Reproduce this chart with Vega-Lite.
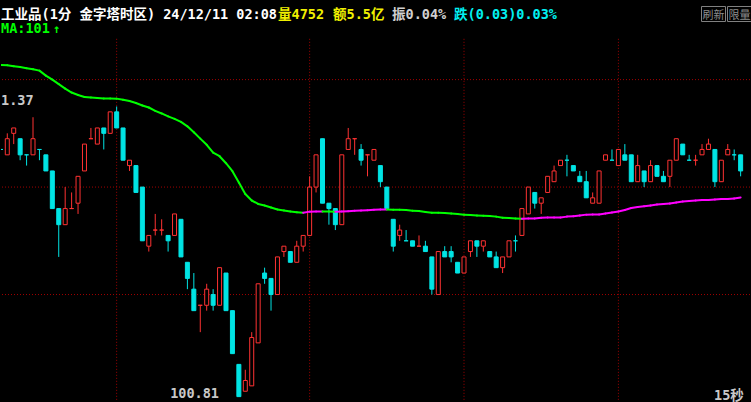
{
"$schema": "https://vega.github.io/schema/vega-lite/v6.json",
"width": 751, "height": 402,
"autosize": {"type": "fit", "contains": "padding"},
"padding": 0,
"background": "#000000",
"config": {"view": {"stroke": null}, "text": {"font": "DejaVu Sans Mono, Noto Sans CJK SC"}, "scale": {"continuousPadding": 0}},
"data": {"values": [
{"i":1,"o":101.27,"c":101.27,"h":101.27,"l":101.27,"d":"down","ma":101.4272,"mc":"down"},
{"i":2,"o":101.26,"c":101.29,"h":101.30,"l":101.26,"d":"up","ma":101.4269,"mc":"down"},
{"i":3,"o":101.30,"c":101.31,"h":101.31,"l":101.28,"d":"up","ma":101.4250,"mc":"down"},
{"i":4,"o":101.29,"c":101.26,"h":101.29,"l":101.25,"d":"down","ma":101.4235,"mc":"down"},
{"i":5,"o":101.26,"c":101.26,"h":101.26,"l":101.24,"d":"down","ma":101.4213,"mc":"down"},
{"i":6,"o":101.26,"c":101.29,"h":101.33,"l":101.26,"d":"up","ma":101.4194,"mc":"down"},
{"i":7,"o":101.27,"c":101.27,"h":101.27,"l":101.25,"d":"down","ma":101.4167,"mc":"down"},
{"i":8,"o":101.26,"c":101.23,"h":101.26,"l":101.23,"d":"down","ma":101.4074,"mc":"down"},
{"i":9,"o":101.23,"c":101.16,"h":101.23,"l":101.16,"d":"down","ma":101.4000,"mc":"down"},
{"i":10,"o":101.16,"c":101.13,"h":101.16,"l":101.07,"d":"down","ma":101.3917,"mc":"down"},
{"i":11,"o":101.13,"c":101.16,"h":101.20,"l":101.13,"d":"up","ma":101.3833,"mc":"down"},
{"i":12,"o":101.16,"c":101.16,"h":101.19,"l":101.16,"d":"up","ma":101.3759,"mc":"down"},
{"i":13,"o":101.17,"c":101.22,"h":101.22,"l":101.15,"d":"up","ma":101.3713,"mc":"down"},
{"i":14,"o":101.23,"c":101.28,"h":101.28,"l":101.23,"d":"up","ma":101.3676,"mc":"down"},
{"i":15,"o":101.29,"c":101.29,"h":101.31,"l":101.29,"d":"up","ma":101.3667,"mc":"down"},
{"i":16,"o":101.28,"c":101.31,"h":101.31,"l":101.28,"d":"up","ma":101.3657,"mc":"down"},
{"i":17,"o":101.31,"c":101.30,"h":101.31,"l":101.27,"d":"down","ma":101.3648,"mc":"down"},
{"i":18,"o":101.30,"c":101.34,"h":101.34,"l":101.30,"d":"up","ma":101.3647,"mc":"down"},
{"i":19,"o":101.34,"c":101.31,"h":101.35,"l":101.31,"d":"down","ma":101.3646,"mc":"down"},
{"i":20,"o":101.31,"c":101.25,"h":101.31,"l":101.25,"d":"down","ma":101.3624,"mc":"down"},
{"i":21,"o":101.24,"c":101.25,"h":101.25,"l":101.23,"d":"up","ma":101.3602,"mc":"down"},
{"i":22,"o":101.24,"c":101.19,"h":101.24,"l":101.19,"d":"down","ma":101.3565,"mc":"down"},
{"i":23,"o":101.20,"c":101.10,"h":101.20,"l":101.10,"d":"down","ma":101.3519,"mc":"down"},
{"i":24,"o":101.09,"c":101.11,"h":101.11,"l":101.08,"d":"up","ma":101.3481,"mc":"down"},
{"i":25,"o":101.12,"c":101.12,"h":101.15,"l":101.11,"d":"up","ma":101.3417,"mc":"down"},
{"i":26,"o":101.12,"c":101.12,"h":101.14,"l":101.11,"d":"up","ma":101.3370,"mc":"down"},
{"i":27,"o":101.11,"c":101.10,"h":101.11,"l":101.08,"d":"down","ma":101.3315,"mc":"down"},
{"i":28,"o":101.11,"c":101.15,"h":101.15,"l":101.11,"d":"up","ma":101.3269,"mc":"down"},
{"i":29,"o":101.14,"c":101.07,"h":101.14,"l":101.07,"d":"down","ma":101.3213,"mc":"down"},
{"i":30,"o":101.06,"c":101.03,"h":101.06,"l":101.01,"d":"down","ma":101.3130,"mc":"down"},
{"i":31,"o":101.01,"c":100.97,"h":101.04,"l":100.97,"d":"down","ma":101.3019,"mc":"down"},
{"i":32,"o":100.98,"c":100.98,"h":100.98,"l":100.93,"d":"up","ma":101.2902,"mc":"down"},
{"i":33,"o":100.98,"c":101.01,"h":101.02,"l":100.97,"d":"up","ma":101.2787,"mc":"down"},
{"i":34,"o":101.00,"c":100.98,"h":101.01,"l":100.97,"d":"down","ma":101.2639,"mc":"down"},
{"i":35,"o":100.98,"c":101.05,"h":101.05,"l":100.98,"d":"up","ma":101.2574,"mc":"down"},
{"i":36,"o":101.04,"c":100.97,"h":101.04,"l":100.97,"d":"down","ma":101.2444,"mc":"down"},
{"i":37,"o":100.97,"c":100.89,"h":100.97,"l":100.89,"d":"down","ma":101.2296,"mc":"down"},
{"i":38,"o":100.87,"c":100.81,"h":100.87,"l":100.81,"d":"down","ma":101.2083,"mc":"down"},
{"i":39,"o":100.82,"c":100.84,"h":100.86,"l":100.82,"d":"up","ma":101.1870,"mc":"down"},
{"i":40,"o":100.83,"c":100.92,"h":100.93,"l":100.83,"d":"up","ma":101.1750,"mc":"down"},
{"i":41,"o":100.91,"c":101.02,"h":101.02,"l":100.91,"d":"up","ma":101.1685,"mc":"down"},
{"i":42,"o":101.04,"c":101.03,"h":101.05,"l":101.02,"d":"down","ma":101.1657,"mc":"down"},
{"i":43,"o":101.03,"c":101.00,"h":101.03,"l":100.97,"d":"down","ma":101.1620,"mc":"down"},
{"i":44,"o":101.00,"c":101.07,"h":101.07,"l":101.00,"d":"up","ma":101.1583,"mc":"down"},
{"i":45,"o":101.08,"c":101.09,"h":101.09,"l":101.07,"d":"up","ma":101.1565,"mc":"down"},
{"i":46,"o":101.08,"c":101.06,"h":101.08,"l":101.06,"d":"down","ma":101.1546,"mc":"down"},
{"i":47,"o":101.06,"c":101.09,"h":101.10,"l":101.06,"d":"up","ma":101.1531,"mc":"down"},
{"i":48,"o":101.09,"c":101.11,"h":101.11,"l":101.08,"d":"up","ma":101.1524,"mc":"up"},
{"i":49,"o":101.11,"c":101.20,"h":101.22,"l":101.11,"d":"up","ma":101.1543,"mc":"up"},
{"i":50,"o":101.20,"c":101.26,"h":101.26,"l":101.19,"d":"up","ma":101.1545,"mc":"up"},
{"i":51,"o":101.29,"c":101.17,"h":101.29,"l":101.17,"d":"down","ma":101.1546,"mc":"down"},
{"i":52,"o":101.17,"c":101.16,"h":101.17,"l":101.13,"d":"down","ma":101.1544,"mc":"down"},
{"i":53,"o":101.16,"c":101.13,"h":101.16,"l":101.12,"d":"down","ma":101.1541,"mc":"up"},
{"i":54,"o":101.13,"c":101.26,"h":101.26,"l":101.13,"d":"up","ma":101.1545,"mc":"up"},
{"i":55,"o":101.27,"c":101.29,"h":101.31,"l":101.27,"d":"up","ma":101.1552,"mc":"up"},
{"i":56,"o":101.29,"c":101.29,"h":101.29,"l":101.26,"d":"up","ma":101.1561,"mc":"up"},
{"i":57,"o":101.27,"c":101.25,"h":101.28,"l":101.24,"d":"down","ma":101.1562,"mc":"up"},
{"i":58,"o":101.26,"c":101.26,"h":101.26,"l":101.22,"d":"up","ma":101.1570,"mc":"up"},
{"i":59,"o":101.25,"c":101.27,"h":101.27,"l":101.25,"d":"up","ma":101.1580,"mc":"up"},
{"i":60,"o":101.24,"c":101.21,"h":101.24,"l":101.20,"d":"down","ma":101.1581,"mc":"up"},
{"i":61,"o":101.20,"c":101.16,"h":101.20,"l":101.16,"d":"down","ma":101.1582,"mc":"down"},
{"i":62,"o":101.14,"c":101.09,"h":101.14,"l":101.08,"d":"down","ma":101.1580,"mc":"down"},
{"i":63,"o":101.11,"c":101.12,"h":101.13,"l":101.10,"d":"up","ma":101.1579,"mc":"down"},
{"i":64,"o":101.10,"c":101.10,"h":101.12,"l":101.10,"d":"down","ma":101.1574,"mc":"down"},
{"i":65,"o":101.10,"c":101.09,"h":101.10,"l":101.09,"d":"down","ma":101.1561,"mc":"down"},
{"i":66,"o":101.09,"c":101.09,"h":101.11,"l":101.09,"d":"up","ma":101.1556,"mc":"down"},
{"i":67,"o":101.09,"c":101.08,"h":101.10,"l":101.08,"d":"down","ma":101.1537,"mc":"down"},
{"i":68,"o":101.07,"c":101.01,"h":101.07,"l":101.00,"d":"down","ma":101.1524,"mc":"down"},
{"i":69,"o":101.00,"c":101.08,"h":101.08,"l":101.00,"d":"up","ma":101.1523,"mc":"down"},
{"i":70,"o":101.08,"c":101.07,"h":101.09,"l":101.07,"d":"down","ma":101.1519,"mc":"down"},
{"i":71,"o":101.08,"c":101.07,"h":101.09,"l":101.06,"d":"down","ma":101.1506,"mc":"down"},
{"i":72,"o":101.06,"c":101.04,"h":101.06,"l":101.04,"d":"down","ma":101.1500,"mc":"down"},
{"i":73,"o":101.04,"c":101.07,"h":101.07,"l":101.04,"d":"up","ma":101.1487,"mc":"down"},
{"i":74,"o":101.08,"c":101.10,"h":101.10,"l":101.07,"d":"up","ma":101.1481,"mc":"down"},
{"i":75,"o":101.10,"c":101.09,"h":101.10,"l":101.07,"d":"down","ma":101.1469,"mc":"down"},
{"i":76,"o":101.09,"c":101.10,"h":101.10,"l":101.08,"d":"up","ma":101.1468,"mc":"down"},
{"i":77,"o":101.08,"c":101.07,"h":101.08,"l":101.07,"d":"down","ma":101.1463,"mc":"down"},
{"i":78,"o":101.07,"c":101.05,"h":101.08,"l":101.05,"d":"down","ma":101.1450,"mc":"down"},
{"i":79,"o":101.05,"c":101.07,"h":101.07,"l":101.04,"d":"up","ma":101.1431,"mc":"down"},
{"i":80,"o":101.07,"c":101.10,"h":101.10,"l":101.07,"d":"up","ma":101.1426,"mc":"down"},
{"i":81,"o":101.10,"c":101.10,"h":101.11,"l":101.08,"d":"down","ma":101.1413,"mc":"down"},
{"i":82,"o":101.11,"c":101.16,"h":101.16,"l":101.11,"d":"up","ma":101.1412,"mc":"up"},
{"i":83,"o":101.15,"c":101.20,"h":101.20,"l":101.15,"d":"up","ma":101.1414,"mc":"up"},
{"i":84,"o":101.19,"c":101.17,"h":101.19,"l":101.16,"d":"down","ma":101.1417,"mc":"up"},
{"i":85,"o":101.17,"c":101.18,"h":101.18,"l":101.15,"d":"up","ma":101.1431,"mc":"up"},
{"i":86,"o":101.19,"c":101.22,"h":101.22,"l":101.19,"d":"up","ma":101.1432,"mc":"up"},
{"i":87,"o":101.21,"c":101.23,"h":101.24,"l":101.21,"d":"up","ma":101.1433,"mc":"up"},
{"i":88,"o":101.24,"c":101.25,"h":101.25,"l":101.24,"d":"up","ma":101.1435,"mc":"up"},
{"i":89,"o":101.25,"c":101.25,"h":101.26,"l":101.22,"d":"down","ma":101.1450,"mc":"up"},
{"i":90,"o":101.24,"c":101.23,"h":101.24,"l":101.23,"d":"down","ma":101.1457,"mc":"up"},
{"i":91,"o":101.22,"c":101.21,"h":101.23,"l":101.21,"d":"down","ma":101.1469,"mc":"up"},
{"i":92,"o":101.21,"c":101.18,"h":101.23,"l":101.18,"d":"down","ma":101.1487,"mc":"up"},
{"i":93,"o":101.17,"c":101.18,"h":101.19,"l":101.17,"d":"up","ma":101.1488,"mc":"up"},
{"i":94,"o":101.17,"c":101.23,"h":101.23,"l":101.17,"d":"up","ma":101.1491,"mc":"up"},
{"i":95,"o":101.25,"c":101.26,"h":101.26,"l":101.25,"d":"up","ma":101.1509,"mc":"up"},
{"i":96,"o":101.25,"c":101.25,"h":101.27,"l":101.25,"d":"down","ma":101.1528,"mc":"up"},
{"i":97,"o":101.24,"c":101.27,"h":101.27,"l":101.24,"d":"up","ma":101.1546,"mc":"up"},
{"i":98,"o":101.26,"c":101.25,"h":101.28,"l":101.25,"d":"down","ma":101.1574,"mc":"up"},
{"i":99,"o":101.26,"c":101.21,"h":101.26,"l":101.21,"d":"down","ma":101.1611,"mc":"up"},
{"i":100,"o":101.21,"c":101.24,"h":101.26,"l":101.21,"d":"up","ma":101.1630,"mc":"up"},
{"i":101,"o":101.23,"c":101.21,"h":101.23,"l":101.20,"d":"down","ma":101.1643,"mc":"up"},
{"i":102,"o":101.21,"c":101.24,"h":101.25,"l":101.21,"d":"up","ma":101.1657,"mc":"up"},
{"i":103,"o":101.24,"c":101.22,"h":101.24,"l":101.22,"d":"down","ma":101.1676,"mc":"up"},
{"i":104,"o":101.22,"c":101.21,"h":101.23,"l":101.21,"d":"down","ma":101.1685,"mc":"up"},
{"i":105,"o":101.22,"c":101.25,"h":101.25,"l":101.20,"d":"up","ma":101.1694,"mc":"up"},
{"i":106,"o":101.25,"c":101.29,"h":101.29,"l":101.25,"d":"up","ma":101.1713,"mc":"up"},
{"i":107,"o":101.28,"c":101.26,"h":101.28,"l":101.26,"d":"down","ma":101.1731,"mc":"up"},
{"i":108,"o":101.25,"c":101.25,"h":101.26,"l":101.25,"d":"down","ma":101.1741,"mc":"up"},
{"i":109,"o":101.25,"c":101.25,"h":101.26,"l":101.24,"d":"up","ma":101.1750,"mc":"up"},
{"i":110,"o":101.26,"c":101.27,"h":101.28,"l":101.26,"d":"up","ma":101.1759,"mc":"up"},
{"i":111,"o":101.27,"c":101.28,"h":101.29,"l":101.27,"d":"up","ma":101.1760,"mc":"up"},
{"i":112,"o":101.27,"c":101.21,"h":101.27,"l":101.20,"d":"down","ma":101.1769,"mc":"up"},
{"i":113,"o":101.21,"c":101.25,"h":101.25,"l":101.21,"d":"up","ma":101.1778,"mc":"up"},
{"i":114,"o":101.26,"c":101.27,"h":101.28,"l":101.26,"d":"up","ma":101.1779,"mc":"up"},
{"i":115,"o":101.26,"c":101.26,"h":101.27,"l":101.25,"d":"down","ma":101.1787,"mc":"up"},
{"i":116,"o":101.26,"c":101.23,"h":101.26,"l":101.22,"d":"down","ma":101.1806,"mc":"up"}
]},
"layer": [
{"data": {"values": [{"p": 101.0}, {"p": 101.2}, {"p": 101.4}]},
 "mark": {"type": "rule", "color": "#a00000", "strokeWidth": 1, "strokeDash": [1, 2]},
 "encoding": {"y": {"field": "p", "type": "quantitative", "axis": null, "scale": {"domain": [100.80185, 101.5463], "nice": false, "zero": false, "padding": 0}}}},
{"data": {"values": [{"t": 19}, {"t": 49}, {"t": 73}, {"t": 97}]},
 "mark": {"type": "rule", "color": "#a00000", "strokeWidth": 1, "strokeDash": [1, 2]},
 "encoding": {
  "x": {"field": "t", "type": "quantitative", "axis": null, "scale": {"domain": [1.0233, 117.457], "nice": false, "zero": false, "padding": 0}},
  "y": {"datum": 101.4759, "type": "quantitative", "axis": null, "scale": {"domain": [100.80185, 101.5463], "nice": false, "zero": false, "padding": 0}},
  "y2": {"datum": 100.80185}}},
{"mark": {"type": "rule", "strokeWidth": 1, "clip": true},
 "encoding": {
  "x": {"field": "i", "type": "quantitative", "axis": null, "scale": {"domain": [1.0233, 117.457], "nice": false, "zero": false, "padding": 0}},
  "y": {"field": "l", "type": "quantitative", "axis": null, "scale": {"domain": [100.80185, 101.5463], "nice": false, "zero": false, "padding": 0}},
  "y2": {"field": "h"},
  "stroke": {"condition": {"test": "datum.d === 'up'", "value": "#ff3232"}, "value": "#00e4e4"}}},
{"mark": {"type": "bar", "size": 4, "strokeWidth": 1, "clip": true},
 "encoding": {
  "x": {"field": "i", "type": "quantitative", "axis": null, "scale": {"domain": [1.0233, 117.457], "nice": false, "zero": false, "padding": 0}},
  "y": {"field": "o", "type": "quantitative", "axis": null, "scale": {"domain": [100.80185, 101.5463], "nice": false, "zero": false, "padding": 0}},
  "y2": {"field": "c"},
  "fill": {"condition": {"test": "datum.d === 'up'", "value": "#000000"}, "value": "#00e4e4"},
  "stroke": {"condition": {"test": "datum.d === 'up'", "value": "#ff3232"}, "value": "#00e4e4"}}},
{"transform": [
  {"window": [{"op": "lead", "field": "ma", "as": "ma2"}, {"op": "lead", "field": "i", "as": "i2"}], "sort": [{"field": "i", "order": "ascending"}]},
  {"filter": "isValid(datum.ma2)"}],
 "mark": {"type": "rule", "strokeWidth": 2, "strokeCap": "round", "clip": true},
 "encoding": {
  "x": {"field": "i", "type": "quantitative", "axis": null, "scale": {"domain": [1.0233, 117.457], "nice": false, "zero": false, "padding": 0}},
  "y": {"field": "ma", "type": "quantitative", "axis": null, "scale": {"domain": [100.80185, 101.5463], "nice": false, "zero": false, "padding": 0}},
  "x2": {"field": "i2"},
  "y2": {"field": "ma2"},
  "stroke": {"condition": {"test": "datum.mc === 'up'", "value": "#ff00ff"}, "value": "#00ff00"}}},
{"data": {"values": [{}]},
 "mark": {"type": "text", "text": "工业品(1分 金字塔时区) 24/12/11 02:08", "x": 0, "y": 17.5, "align": "left", "baseline": "alphabetic", "fontSize": 13.5, "fontWeight": "bold", "color": "#ffffff"}},
{"data": {"values": [{}]},
 "mark": {"type": "text", "text": "量4752", "x": 277, "y": 17.5, "align": "left", "baseline": "alphabetic", "fontSize": 13.5, "fontWeight": "bold", "color": "#f0f000"}},
{"data": {"values": [{}]},
 "mark": {"type": "text", "text": "额5.5亿", "x": 332, "y": 17.5, "align": "left", "baseline": "alphabetic", "fontSize": 13.5, "fontWeight": "bold", "color": "#f0f000"}},
{"data": {"values": [{}]},
 "mark": {"type": "text", "text": "振0.04%", "x": 391, "y": 17.5, "align": "left", "baseline": "alphabetic", "fontSize": 13.5, "fontWeight": "bold", "color": "#d0d0d0"}},
{"data": {"values": [{}]},
 "mark": {"type": "text", "text": "跌(0.03)0.03%", "x": 453, "y": 17.5, "align": "left", "baseline": "alphabetic", "fontSize": 13.5, "fontWeight": "bold", "color": "#00f0f0"}},
{"data": {"values": [{}]},
 "mark": {"type": "text", "text": "MA:101", "x": 0, "y": 32, "align": "left", "baseline": "alphabetic", "fontSize": 13.5, "fontWeight": "bold", "color": "#00ff00"}},
{"data": {"values": [{}]},
 "mark": {"type": "text", "text": "↑", "x": 52, "y": 32, "align": "left", "baseline": "alphabetic", "fontSize": 12, "fontWeight": "bold", "color": "#00ff00"}},
{"data": {"values": [{}]},
 "mark": {"type": "text", "text": "1.37", "x": 0, "y": 104.3, "align": "left", "baseline": "alphabetic", "fontSize": 13.5, "fontWeight": "bold", "color": "#c8c8c8"}},
{"data": {"values": [{}]},
 "mark": {"type": "text", "text": "100.81", "x": 218, "y": 397.3, "align": "right", "baseline": "alphabetic", "fontSize": 13.5, "fontWeight": "bold", "color": "#c8c8c8"}},
{"data": {"values": [{}]},
 "mark": {"type": "rule", "x": 221, "y": 392, "x2": 237, "y2": 399.5, "color": "#c8c8c8", "strokeWidth": 1},
 "encoding": {}},
{"data": {"values": [{}]},
 "mark": {"type": "text", "text": "15秒", "x": 713, "y": 399.3, "align": "left", "baseline": "alphabetic", "fontSize": 13.5, "fontWeight": "bold", "color": "#c8c8c8"}},
{"data": {"values": [{}]},
 "mark": {"type": "rect", "x": 700.5, "x2": 724.5, "y": 5.5, "y2": 20.5, "fill": null, "fillOpacity": 0, "stroke": "#808080", "strokeWidth": 1}},
{"data": {"values": [{}]},
 "mark": {"type": "rect", "x": 726.5, "x2": 750.5, "y": 5.5, "y2": 20.5, "fill": null, "fillOpacity": 0, "stroke": "#808080", "strokeWidth": 1}},
{"data": {"values": [{}]},
 "mark": {"type": "text", "text": "刷新", "x": 712.5, "y": 17.5, "align": "center", "baseline": "alphabetic", "fontSize": 11, "font": "Noto Sans CJK SC", "color": "#8c8c8c"}},
{"data": {"values": [{}]},
 "mark": {"type": "text", "text": "限量", "x": 738.5, "y": 17.5, "align": "center", "baseline": "alphabetic", "fontSize": 11, "font": "Noto Sans CJK SC", "color": "#8c8c8c"}}
]
}
